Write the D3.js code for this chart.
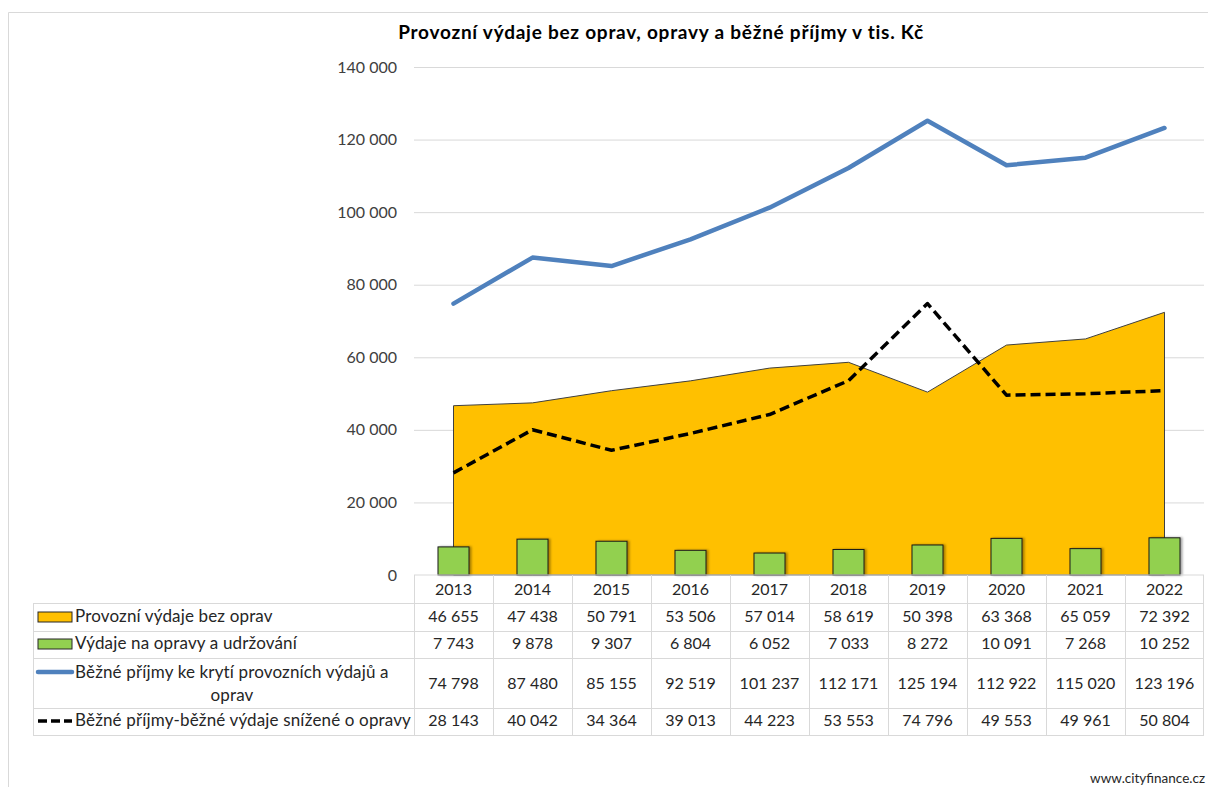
<!DOCTYPE html>
<html>
<head>
<meta charset="utf-8">
<script src="https://cdn.jsdelivr.net/npm/d3@7/dist/d3.min.js"></script>
<style>
  html, body { margin: 0; padding: 0; background: #fff; }
  svg { display: block; font-family: Lato, "Open Sans", sans-serif; }
</style>
</head>
<body>
<svg id="chart" width="1208" height="787"></svg>
<script>
// ---- Data ----
const years = ["2013","2014","2015","2016","2017","2018","2019","2020","2021","2022"];
const provozni = [46655, 47438, 50791, 53506, 57014, 58619, 50398, 63368, 65059, 72392];
const opravy = [7743, 9878, 9307, 6804, 6052, 7033, 8272, 10091, 7268, 10252];
const prijmy = [74798, 87480, 85155, 92519, 101237, 112171, 125194, 112922, 115020, 123196];
const saldo = [28143, 40042, 34364, 39013, 44223, 53553, 74796, 49553, 49961, 50804];
const yTicks = [0, 20000, 40000, 60000, 80000, 100000, 120000, 140000];
const seriesNames = [
  "Provozní výdaje bez oprav",
  "Výdaje na opravy a udržování",
  "Běžné příjmy ke krytí provozních výdajů a oprav",
  "Běžné příjmy-běžné výdaje snížené o opravy"
];
const title = "Provozní výdaje bez oprav, opravy a běžné příjmy v tis. Kč";
const footer = "www.cityfinance.cz";

// ---- Layout ----
const svg = d3.select("#chart");
const plotLeft = 414, plotRight = 1204, plotTop = 67, plotBottom = 575;
const tableLeft = 33;
const rowTops = [575, 603, 631, 658, 708, 735];

const fmt = d3.formatLocale({ decimal: ",", thousands: " ", grouping: [3], currency: ["", ""] }).format(",d");

const x = d3.scaleBand().domain(years).range([plotLeft, plotRight]).padding(0);
const xc = d => x(d) + x.bandwidth() / 2;
const y = d3.scaleLinear().domain([0, 140000]).range([plotBottom, plotTop]);

// chart border (left & top)
svg.append("path").attr("d", "M8.5,787 V12.5 H1220").attr("fill", "none").attr("stroke", "#d9d9d9").attr("stroke-width", 1);

// title
svg.append("text").attr("x", 661).attr("y", 39).attr("text-anchor", "middle")
  .attr("font-size", 19).attr("letter-spacing", 0.75).attr("font-weight", "bold").attr("fill", "#000").text(title);

// y axis with gridlines
const yAxis = svg.append("g").attr("transform", `translate(${plotLeft},0)`)
  .call(d3.axisLeft(y).tickValues(yTicks).tickSize(-(plotRight - plotLeft)).tickPadding(17).tickFormat(fmt));
yAxis.select(".domain").remove();
yAxis.selectAll(".tick line").attr("stroke", "#d9d9d9").attr("stroke-width", 1);
yAxis.selectAll(".tick text").attr("font-size", 16).attr("fill", "#404040").attr("font-family", "Lato, sans-serif");
yAxis.selectAll(".tick").filter(d => d === 0).select("line").remove();

// defs: shadow
const defs = svg.append("defs");
const f = defs.append("filter").attr("id", "sh").attr("x", "-20%").attr("y", "-20%").attr("width", "150%").attr("height", "150%");
f.append("feDropShadow").attr("dx", 2).attr("dy", 0).attr("stdDeviation", 1.2).attr("flood-color", "#000").attr("flood-opacity", 0.35);

// area
const area = d3.area().x((d, i) => xc(years[i])).y0(plotBottom).y1(d => y(d));
svg.append("path").datum(provozni).attr("d", area)
  .attr("fill", "#FFC000").attr("stroke", "#404040").attr("stroke-width", 1);

// bars
const barW = 31;
svg.append("g").selectAll("rect").data(opravy).join("rect")
  .attr("x", (d, i) => xc(years[i]) - barW / 2)
  .attr("y", d => y(d))
  .attr("width", barW)
  .attr("height", d => plotBottom - y(d))
  .attr("fill", "#92D050").attr("stroke", "#1a1a1a").attr("stroke-width", 1)
  .attr("filter", "url(#sh)");

// lines
const line = d3.line().x((d, i) => xc(years[i])).y(d => y(d));
svg.append("path").datum(prijmy).attr("d", line)
  .attr("fill", "none").attr("stroke", "#4F81BD").attr("stroke-width", 4.5)
  .attr("stroke-linecap", "round").attr("stroke-linejoin", "round");
svg.append("path").datum(saldo).attr("d", line)
  .attr("fill", "none").attr("stroke", "#000").attr("stroke-width", 3.5)
  .attr("stroke-dasharray", "10,5").attr("stroke-linejoin", "round");

// ---- Data table ----
const tg = svg.append("g");
const gridC = "#d9d9d9";
tg.append("line").attr("x1", plotLeft).attr("x2", plotRight).attr("y1", rowTops[0]).attr("y2", rowTops[0]).attr("stroke", gridC);
rowTops.slice(1).forEach(r => {
  tg.append("line").attr("x1", tableLeft).attr("x2", plotRight).attr("y1", r + 0.5).attr("y2", r + 0.5).attr("stroke", gridC);
});
tg.append("line").attr("x1", tableLeft + 0.5).attr("x2", tableLeft + 0.5).attr("y1", rowTops[1]).attr("y2", rowTops[5]).attr("stroke", gridC);
years.forEach(yr => {
  tg.append("line").attr("x1", x(yr) + 0.5).attr("x2", x(yr) + 0.5).attr("y1", rowTops[0]).attr("y2", rowTops[5]).attr("stroke", gridC);
});
tg.append("line").attr("x1", plotRight - 0.5).attr("x2", plotRight - 0.5).attr("y1", rowTops[0]).attr("y2", rowTops[5]).attr("stroke", gridC);

const txtC = "#262626";
tg.selectAll("text.yr").data(years).join("text").attr("class", "yr")
  .attr("x", d => xc(d)).attr("y", 595).attr("text-anchor", "middle")
  .attr("font-size", 16).attr("fill", txtC).text(d => d);

const rowsData = [provozni, opravy, prijmy, saldo];
const rowTextY = [622, 649, 689, 726];
rowsData.forEach((arr, r) => {
  tg.append("g").selectAll("text").data(arr).join("text")
    .attr("x", (d, i) => xc(years[i])).attr("y", rowTextY[r]).attr("text-anchor", "middle")
    .attr("font-size", 16).attr("fill", txtC).text(d => fmt(d));
});

// legend keys & labels
const keyX = 38, keyW = 34, labX = 75;
tg.append("rect").attr("x", keyX).attr("y", 612).attr("width", keyW).attr("height", 10)
  .attr("fill", "#FFC000").attr("stroke", "#262626").attr("stroke-width", 1);
tg.append("rect").attr("x", keyX).attr("y", 639).attr("width", keyW).attr("height", 10)
  .attr("fill", "#92D050").attr("stroke", "#262626").attr("stroke-width", 1);
tg.append("line").attr("x1", keyX).attr("x2", keyX + keyW).attr("y1", 672).attr("y2", 672)
  .attr("stroke", "#4F81BD").attr("stroke-width", 4.5).attr("stroke-linecap", "round");
tg.append("line").attr("x1", keyX).attr("x2", keyX + keyW).attr("y1", 721).attr("y2", 721)
  .attr("stroke", "#000").attr("stroke-width", 3.5).attr("stroke-dasharray", "9,4");

const labFS = 17, labLS = 0.15;
const lab = (xx, yy, t, anchor) => tg.append("text").attr("x", xx).attr("y", yy)
  .attr("text-anchor", anchor || "start").attr("font-size", labFS).attr("letter-spacing", labLS)
  .attr("fill", txtC).text(t);
lab(labX, 622, seriesNames[0]);
lab(labX, 649, seriesNames[1]);
const words = seriesNames[2].split(" ");
lab(labX, 678, words.slice(0, -1).join(" "));
lab(232, 701, words[words.length - 1], "middle");
lab(labX, 726, seriesNames[3]);

// footer
svg.append("text").attr("x", 1205).attr("y", 783).attr("text-anchor", "end")
  .attr("font-size", 13.5).attr("fill", "#262626").text(footer);
</script>
</body>
</html>
